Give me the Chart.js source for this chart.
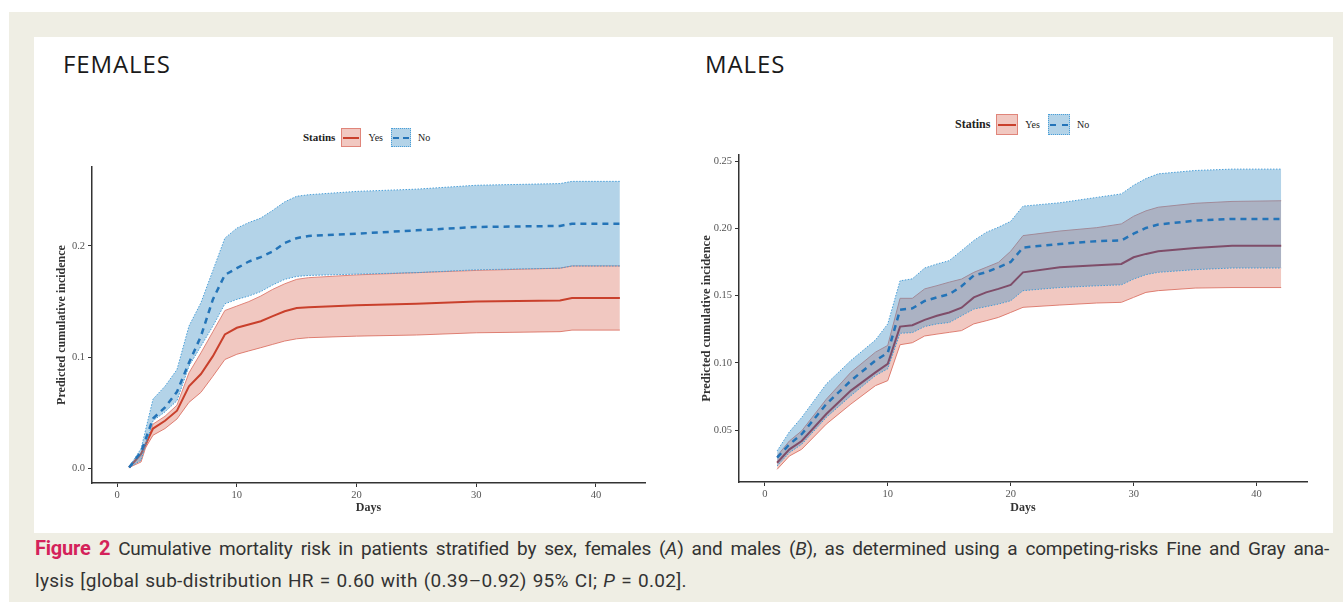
<!DOCTYPE html>
<html>
<head>
<meta charset="utf-8">
<script src="https://cdn.jsdelivr.net/npm/chart.js@4.4.0/dist/chart.umd.min.js"></script>
<style>
  body { margin: 0; background: #fff; width: 1343px; height: 609px; overflow: hidden; position: relative; }
  #frame { position: absolute; left: 9px; top: 12px; width: 1334px; height: 590px; background: #efeee4; }
  #panel { position: absolute; left: 34px; top: 37px; width: 1299px; height: 496px; background: #fff; }
  .title { position: absolute; font-family: "Open Sans", sans-serif; font-size: 24px; letter-spacing: 0.9px; color: #1a1a1a; }
  .chartbox { position: absolute; }
  .legend { position: absolute; height: 22px; font-family: "Liberation Serif", serif; color: #222; display: flex; align-items: center; }
  .legend .lab { font-weight: bold; margin-right: 6px; }
  .legend .key { position: relative; width: 20px; height: 19px; box-sizing: border-box; margin-right: 7px; }
  .legend .txt { margin-right: 8px; font-size: 10px; }
  .key.yes { background: rgba(214,96,77,0.35); border: 1px solid #e0857a; }
  .key.no { background: rgba(66,146,198,0.4); border: 1px dotted #4a9fd8; }
  .key .ln { position: absolute; left: 1px; right: 1px; top: 8px; }
  .key.yes .ln { border-top: 2px solid #c9402c; }
  .key.no .ln { border-top: 2px dashed #2474b8; }
  #caption { position: absolute; left: 35px; top: 532px; width: 1294px; font-family: Roboto, sans-serif; font-size: 19px; color: #333; line-height: 32px; letter-spacing: -0.2px; }
  #caption .l1 { text-align: justify; text-align-last: justify; white-space: nowrap; }
  #caption .l2 { letter-spacing: 0.3px; word-spacing: 1px; }
  #caption b { color: #d4225a; font-size: 20px; }
</style>
</head>
<body>
<div id="frame"></div>
<div id="panel"></div>

<div class="title" style="left:63px; top:47px;">FEMALES</div>
<div class="title" style="left:705px; top:47px;">MALES</div>

<div class="legend" style="left:303px; top:126px; font-size:11px;">
  <span class="lab">Statins</span>
  <span class="key yes"><span class="ln"></span></span><span class="txt">Yes</span>
  <span class="key no"><span class="ln"></span></span><span class="txt">No</span>
</div>
<div class="legend" style="left:955px; top:113px; font-size:12px;">
  <span class="lab">Statins</span>
  <span class="key yes" style="width:22px;height:21px;"><span class="ln" style="top:9px"></span></span><span class="txt">Yes</span>
  <span class="key no" style="width:22px;height:21px;"><span class="ln" style="top:9px"></span></span><span class="txt">No</span>
</div>

<div class="chartbox" style="left:40px; top:150px; width:620px; height:380px;"><canvas id="females"></canvas></div>
<div class="chartbox" style="left:680px; top:140px; width:640px; height:390px;"><canvas id="males"></canvas></div>

<div id="caption">
  <div class="l1"><b>Figure 2</b> Cumulative mortality risk in patients stratified by sex, females (<i>A</i>) and males (<i>B</i>), as determined using a competing-risks Fine and Gray ana-</div>
  <div class="l2">lysis [global sub-distribution HR = 0.60 with (0.39–0.92) 95% CI; <i>P</i> = 0.02].</div>
</div>

<script>
// ============================
// DATA - females
// ============================
const femaleDays = [1, 2, 3, 4, 5, 6, 7, 8, 9, 10, 11, 12, 13, 14, 15, 16, 20, 25, 30, 37, 38, 42];
const femaleNoMean  = [0.001, 0.015, 0.045, 0.055, 0.069, 0.095, 0.119, 0.152, 0.174, 0.180, 0.186, 0.190, 0.195, 0.2026, 0.207, 0.209, 0.211, 0.214, 0.217, 0.218, 0.220, 0.220];
const femaleNoUpper = [0.0015, 0.018, 0.0625, 0.074, 0.089, 0.128, 0.149, 0.178, 0.207, 0.216, 0.221, 0.225, 0.232, 0.2396, 0.2446, 0.246, 0.249, 0.251, 0.2545, 0.256, 0.258, 0.258];
const femaleNoLower = [0.001, 0.0075, 0.043, 0.051, 0.061, 0.092, 0.110, 0.128, 0.148, 0.152, 0.155, 0.159, 0.165, 0.170, 0.1726, 0.1735, 0.1747, 0.176, 0.1786, 0.180, 0.182, 0.182];
const femaleYesMean  = [0.001, 0.0134, 0.036, 0.043, 0.052, 0.074, 0.085, 0.101, 0.1205, 0.1265, 0.1295, 0.1324, 0.137, 0.1413, 0.1443, 0.145, 0.1467, 0.148, 0.150, 0.151, 0.1533, 0.1533];
const femaleYesUpper = [0.001, 0.006, 0.040, 0.047, 0.057, 0.086, 0.104, 0.123, 0.142, 0.146, 0.150, 0.155, 0.161, 0.166, 0.170, 0.1715, 0.174, 0.176, 0.178, 0.180, 0.182, 0.182];
const femaleYesLower = [0.0005, 0.012, 0.030, 0.036, 0.0446, 0.0595, 0.0685, 0.083, 0.098, 0.1027, 0.1057, 0.1086, 0.1116, 0.1146, 0.1166, 0.1176, 0.119, 0.120, 0.122, 0.123, 0.1244, 0.1244];
const femaleYTicks = [0.0, 0.1, 0.2];

// ============================
// DATA - males
// ============================
const maleDays = [1, 2, 3, 5, 7, 9, 10, 11, 12, 13, 14, 15, 16, 17, 18, 19, 20, 21, 24, 27, 29, 30, 31, 32, 35, 38, 42];
const maleNoMean  = [0.0296, 0.0395, 0.047, 0.0694, 0.0868, 0.1018, 0.1075, 0.1395, 0.1405, 0.146, 0.1487, 0.151, 0.157, 0.165, 0.1673, 0.171, 0.175, 0.1857, 0.1884, 0.1905, 0.191, 0.196, 0.2003, 0.2028, 0.2057, 0.207, 0.207];
const maleNoUpper = [0.0346, 0.0488, 0.0595, 0.0843, 0.1018, 0.117, 0.129, 0.161, 0.1625, 0.1705, 0.1735, 0.176, 0.1834, 0.191, 0.197, 0.2008, 0.2052, 0.2165, 0.219, 0.223, 0.2256, 0.232, 0.237, 0.2405, 0.243, 0.244, 0.244];
const maleNoLower = [0.0234, 0.0333, 0.0395, 0.0595, 0.0756, 0.0906, 0.0956, 0.122, 0.1225, 0.127, 0.129, 0.130, 0.135, 0.140, 0.1418, 0.1437, 0.1462, 0.1537, 0.156, 0.1573, 0.158, 0.1623, 0.1656, 0.1673, 0.1693, 0.1705, 0.1705];
const maleYesMean  = [0.0258, 0.0358, 0.042, 0.062, 0.0794, 0.093, 0.0993, 0.127, 0.128, 0.132, 0.135, 0.1375, 0.141, 0.1487, 0.1524, 0.155, 0.158, 0.1673, 0.171, 0.1725, 0.1735, 0.1785, 0.181, 0.183, 0.1854, 0.187, 0.187];
const maleYesUpper = [0.0308, 0.042, 0.0495, 0.073, 0.093, 0.108, 0.113, 0.148, 0.148, 0.155, 0.1574, 0.160, 0.1623, 0.1673, 0.171, 0.1747, 0.183, 0.1946, 0.198, 0.2005, 0.2033, 0.209, 0.213, 0.2157, 0.2186, 0.220, 0.2205];
const maleYesLower = [0.0209, 0.0308, 0.0358, 0.0545, 0.0694, 0.0831, 0.0868, 0.1135, 0.115, 0.120, 0.1214, 0.1227, 0.124, 0.129, 0.1313, 0.1338, 0.1375, 0.1413, 0.143, 0.1445, 0.145, 0.1487, 0.1524, 0.1537, 0.1556, 0.156, 0.156];
const maleYTicks = [0.05, 0.10, 0.15, 0.20, 0.25];

const xTicks = [0, 10, 20, 30, 40];

// ============================
// CHART BUILDER
// ============================
function pts(days, vals) {
  return days.map((d, i) => ({ x: d, y: vals[i] }));
}

function makeChart(id, days, s, o) {
  const ctx = document.getElementById(id).getContext("2d");
  return new Chart(ctx, {
    type: "line",
    data: {
      datasets: [
        { data: pts(days, s.noMean), borderColor: "#2474b8", borderWidth: 2.5, borderDash: [6, 5], fill: false },
        { data: pts(days, s.noUpper), borderColor: "#4a9fd8", borderWidth: 1, borderDash: [1.5, 1.5],
          fill: { target: 2 }, backgroundColor: "rgba(66,146,198,0.4)" },
        { data: pts(days, s.noLower), borderColor: "#4a9fd8", borderWidth: 1, borderDash: [1.5, 1.5], fill: false },
        { data: pts(days, s.yesMean), borderColor: o.yesColor, borderWidth: 2, fill: false },
        { data: pts(days, s.yesUpper), borderColor: "#e0857a", borderWidth: 1,
          fill: { target: 5 }, backgroundColor: "rgba(214,96,77,0.35)" },
        { data: pts(days, s.yesLower), borderColor: "#e0857a", borderWidth: 1, fill: false }
      ]
    },
    options: {
      responsive: true,
      maintainAspectRatio: false,
      animation: false,
      layout: { padding: o.padding },
      elements: { point: { radius: 0 }, line: { tension: 0 } },
      plugins: { legend: { display: false }, tooltip: { enabled: false } },
      scales: {
        x: {
          type: "linear", min: -2.1, max: 44.1,
          afterBuildTicks: sc => { sc.ticks = xTicks.map(v => ({ value: v })); },
          afterFit: sc => { sc.height = o.xHeight; },
          grid: { drawOnChartArea: false, drawTicks: true, tickLength: 4, tickColor: "#333" },
          border: { display: true, color: "#333", width: 1.5 },
          ticks: { color: "#555", padding: 2, font: { family: "Liberation Serif", size: 10.5 } },
          title: { display: true, text: "Days", color: "#333", padding: { top: 0, bottom: 15 },
                   font: { family: "Liberation Serif", size: 12, weight: "bold" } }
        },
        y: {
          type: "linear", min: o.yMin, max: o.yMax,
          afterBuildTicks: sc => { sc.ticks = o.yTicks.map(v => ({ value: v })); },
          afterFit: sc => { sc.width = o.yWidth; },
          grid: { drawOnChartArea: false, drawTicks: true, tickLength: 4, tickColor: "#333" },
          border: { display: true, color: "#333", width: 1.5 },
          ticks: { color: "#555", padding: 3, font: { family: "Liberation Serif", size: 10.5 },
                   callback: v => v.toFixed(o.decimals) },
          title: { display: true, text: "Predicted cumulative incidence", color: "#333",
                   padding: { top: o.titlePad, bottom: 4 },
                   font: { family: "Liberation Serif", size: o.titleSize, weight: "bold" } }
        }
      }
    }
  });
}

makeChart("females", femaleDays, {
  noMean: femaleNoMean, noUpper: femaleNoUpper, noLower: femaleNoLower,
  yesMean: femaleYesMean, yesUpper: femaleYesUpper, yesLower: femaleYesLower
}, {
  padding: { top: 17, right: 15, left: 0, bottom: 0 },
  xHeight: 47, yWidth: 52, yMin: -0.0129, yMax: 0.2709, yTicks: femaleYTicks,
  decimals: 1, titlePad: 15, titleSize: 12, yesColor: "#c9402c"
});

makeChart("males", maleDays, {
  noMean: maleNoMean, noUpper: maleNoUpper, noLower: maleNoLower,
  yesMean: maleYesMean, yesUpper: maleYesUpper, yesLower: maleYesLower
}, {
  padding: { top: 15, right: 13, left: 0, bottom: 0 },
  xHeight: 48, yWidth: 59, yMin: 0.0115, yMax: 0.2545, yTicks: maleYTicks,
  decimals: 2, titlePad: 19, titleSize: 12.5, yesColor: "#a8202c"
});
</script>
</body>
</html>
